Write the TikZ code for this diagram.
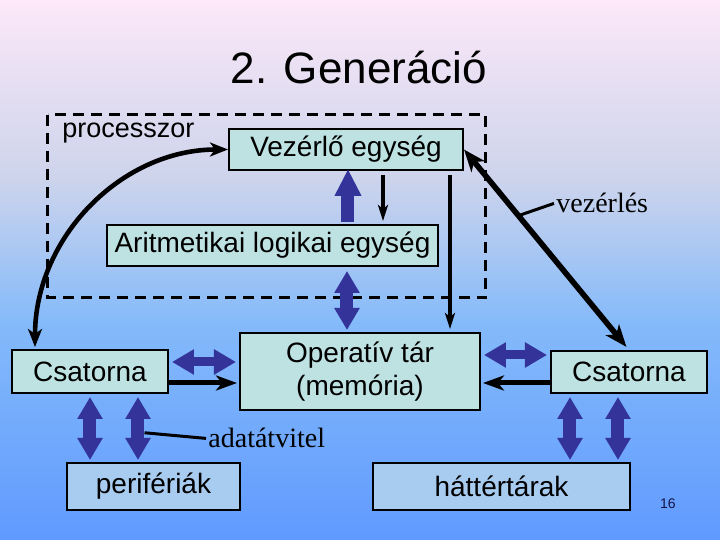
\documentclass[tikz,border=0pt]{standalone}
\usepackage{fontspec}
\setmainfont{Liberation Sans}
\newfontfamily\serifx{Liberation Serif}
\usetikzlibrary{arrows.meta,calc}
\definecolor{boxc}{RGB}{190,226,226}
\definecolor{boxb}{RGB}{168,204,240}
\definecolor{fatc}{RGB}{51,51,153}
\definecolor{bgA}{RGB}{252,232,248}
\definecolor{bgB}{RGB}{205,212,236}
\definecolor{bgC}{RGB}{132,186,250}
\definecolor{bgD}{RGB}{96,154,255}
\definecolor{numc}{RGB}{20,20,70}
\pgfdeclareverticalshading{bgshade}{100bp}{color(0bp)=(bgD); color(25bp)=(bgD); color(45bp)=(bgC); color(58.5bp)=(bgB); color(75bp)=(bgA); color(100bp)=(bgA)}
\tikzset{
  box/.style={draw=black, line width=1pt, fill=boxc, inner sep=0pt, align=center,
    font=\fontsize{14}{16.5}\selectfont},
  boxlow/.style={box, fill=boxb},
  fatv/.style={draw=fatc, line width=6.5pt, {Triangle[length=11pt,width=12pt]}-{Triangle[length=11pt,width=12pt]}},
  fath/.style={draw=fatc, line width=4.5pt, {Triangle[length=11pt,width=12pt]}-{Triangle[length=11pt,width=12pt]}},
  fatup/.style={draw=fatc, line width=6.5pt, -{Triangle[length=13.5pt,width=12.5pt]}},
  thickarr/.style={draw=black, line width=2.5pt, -{Stealth[length=10.5pt,width=7.5pt,inset=3pt]}},
  diagarr/.style={draw=black, line width=2.8pt, {Stealth[length=11pt,width=8.5pt,inset=3pt]}-{Stealth[length=11pt,width=8.5pt,inset=3pt]}},
  curvearr/.style={draw=black, line width=2.3pt, {Stealth[length=9pt,width=7pt,inset=2.5pt]}-{Stealth[length=9pt,width=7pt,inset=2.5pt]}},
  thinarr/.style={draw=black, line width=1.8pt, -{Stealth[length=8pt,width=5pt,inset=2pt]}},
  leader/.style={draw=black, line width=1.5pt},
  dashrect/.style={draw=black, line width=1.5pt, dash pattern=on 5.5pt off 3.5pt},
  serlabel/.style={font=\serifx\fontsize{14}{16}\selectfont, inner sep=1pt, anchor=base west}
}
\begin{document}
\begin{tikzpicture}[x=0.5pt,y=-0.5pt]
\useasboundingbox (0,0) rectangle (720,540);
\shade[shading=bgshade] (0,0) rectangle (720,540);

\node[font=\fontsize{22}{26}\selectfont, anchor=base, inner sep=0pt] (title) at (359,84) {2. Generáció};
\draw[dashrect] (48,115) rectangle (486,298);
\node[font=\fontsize{13.5}{16}\selectfont, anchor=base west, inner sep=0pt] (proc) at (62,138) {processzor};

\node[box, minimum width={234*0.5pt}, minimum height={41*0.5pt}] (vez) at (346,149.5) {Vezérlő egység};
\node[box, minimum width={331*0.5pt}, minimum height={41*0.5pt}] (alu) at (272.5,245.5) {Aritmetikai logikai egység};
\node[box, minimum width={240*0.5pt}, minimum height={77*0.5pt}] (op) at (360,371.5) {Operatív tár\\(memória)};
\node[box, minimum width={156*0.5pt}, minimum height={43*0.5pt}] (csl) at (90,371.5) {Csatorna};
\node[box, minimum width={156*0.5pt}, minimum height={42*0.5pt}] (csr) at (629,372) {Csatorna};
\node[boxlow, minimum width={173*0.5pt}, minimum height={47*0.5pt}] (per) at (153.5,486.5) {perifériák};
\node[boxlow, minimum width={257*0.5pt}, minimum height={47*0.5pt}] (hat) at (501.5,486.5) {háttértárak};

\node[font=\fontsize{7}{8}\selectfont, text=numc, inner sep=0pt] (num) at (668,504) {16};

% processor internal arrows
\draw[fatup, shorten <=1pt, shorten >=-1pt] ([xshift=1pt]vez.south |- alu.north) -- ([xshift=1pt]vez.south);
\draw[thinarr, shorten <=2pt, shorten >=1.5pt] ([xshift=18.5pt]vez.south) -- ([xshift=18.5pt]vez.south |- alu.north);
\draw[thinarr, shorten <=2pt, shorten >=1.5pt] ([xshift=52pt]vez.south) -- ([xshift=52pt]vez.south |- op.north);
\draw[fatv, shorten <=2pt, shorten >=1pt] ([xshift=0.5pt]vez.south |- alu.south) -- ([xshift=0.5pt]vez.south |- op.north);

% curve
\draw[curvearr] ([xshift=-27.5pt,yshift=1pt]csl.north) .. controls +(0,-109) and +(-107,0) .. (vez.west);

% diagonal
\draw[diagarr, shorten >=2pt] (vez.east) -- coordinate[pos=0.33] (vd) (csr.north);
\node[serlabel] (vzl) at (554,213) {vezérlés};
\draw[leader] (vd) -- (vzl.west);

% horizontal connections
\draw[fath, shorten <=1.5pt, shorten >=1.5pt] ([yshift=4.75pt]csl.east) -- ([yshift=4.75pt]csl.east -| op.west);
\draw[thickarr, shorten >=1pt] ([yshift=-5.75pt]csl.east) -- ([yshift=-5.75pt]csl.east -| op.west);
\draw[fath, shorten <=1.5pt, shorten >=1.5pt] ([yshift=8.25pt]op.east) -- ([yshift=8.25pt]op.east -| csr.west);
\draw[thickarr, shorten >=1pt] ([yshift=-5.5pt]csr.west) -- ([yshift=-5.5pt]csr.west -| op.east);

% vertical to peripherals
\draw[fatv, shorten <=1.5pt, shorten >=1pt] (csl.south) -- (csl.south |- per.north);
\draw[fatv, shorten <=1.5pt, shorten >=1pt] ([xshift=24pt]csl.south) -- coordinate[pos=0.57] (fa) ([xshift=24pt]csl.south |- per.north);
\draw[fatv, shorten <=1.5pt, shorten >=1pt] ([xshift=-29.5pt]csr.south) -- ([xshift=-29.5pt]csr.south |- hat.north);
\draw[fatv, shorten <=1.5pt, shorten >=1pt] ([xshift=-5.5pt]csr.south) -- ([xshift=-5.5pt]csr.south |- hat.north);

\node[serlabel] (adl) at (206,448) {adatátvitel};
\draw[leader] ([xshift=3.25pt]fa) -- (adl.west);
\end{tikzpicture}
\end{document}
